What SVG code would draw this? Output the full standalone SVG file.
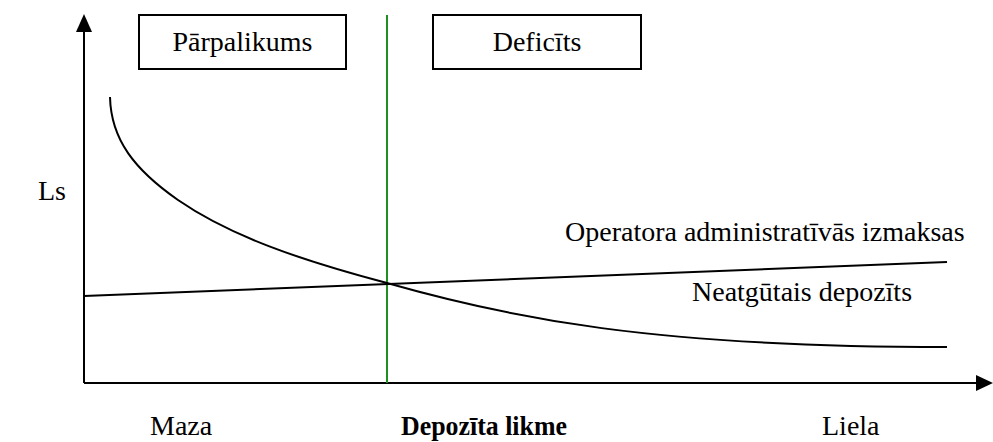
<svg xmlns="http://www.w3.org/2000/svg" width="993" height="442" viewBox="0 0 993 442">
<style>
text{font-family:"Liberation Serif","Times New Roman",serif;font-size:28px;fill:#000}
.b{font-weight:bold;font-size:27px}
.box{fill:#fff;stroke:#000;stroke-width:2}
.ln{fill:none;stroke:#000;stroke-width:2;stroke-linejoin:round}
</style>
<rect width="993" height="442" fill="#fff"/>
<g id="axes">
<path d="M84,383 V24" class="ln" stroke-width="3"/>
<path d="M84,14 L76,32 L92,32 Z" fill="#000"/>
<path d="M84,383 H980" class="ln" stroke-width="3"/>
<path d="M993,383 L976,375 L976,391 Z" fill="#000"/>
</g>
<g id="box-parpalikums">
<rect class="box" x="139" y="15" width="207" height="54"/>
<text x="242.5" y="51" text-anchor="middle">Pārpalikums</text>
</g>
<g id="box-deficits">
<rect class="box" x="433" y="15" width="208" height="54"/>
<text x="537" y="51" text-anchor="middle">Deficīts</text>
</g>
<g id="connectors">
<line x1="387" y1="15" x2="387" y2="383" stroke="#1f8f1f" stroke-width="2"/>
<path class="ln" d="M84,296 L947,262"/>
<path class="ln" d="M110,97 C111,140 135,170 178,200 C230,236 300,260 387,283 C510,318 650,347 947,347"/>
</g>
<g id="labels">
<text x="38" y="200">Ls</text>
<text x="565" y="241">Operatora administratīvās izmaksas</text>
<text x="692" y="301">Neatgūtais depozīts</text>
<text x="150" y="435">Maza</text>
<text x="401" y="435" class="b" textLength="166" lengthAdjust="spacingAndGlyphs">Depozīta likme</text>
<text x="822" y="435">Liela</text>
</g>
</svg>
